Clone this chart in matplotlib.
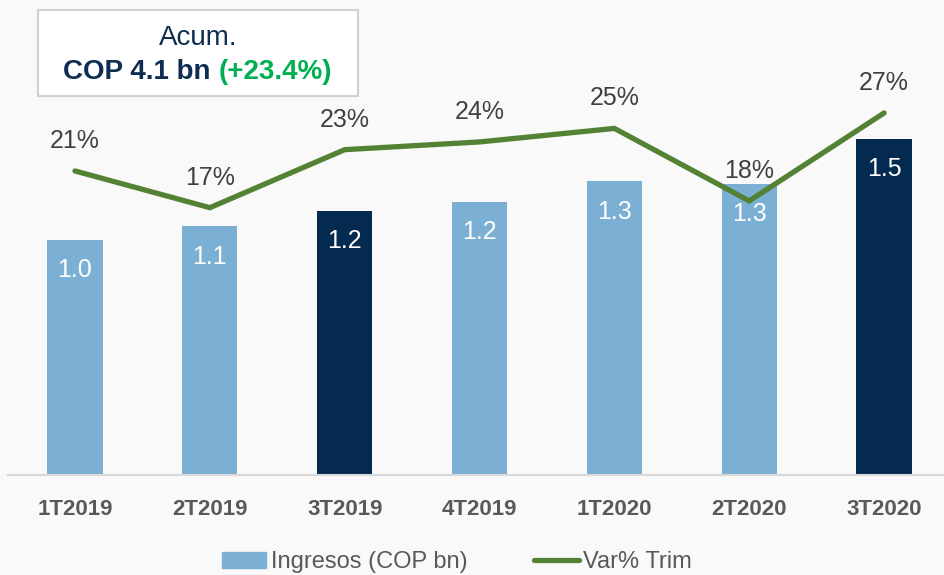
import matplotlib.pyplot as plt
from matplotlib.patches import Rectangle
from matplotlib.lines import Line2D

# data
quarters = ["1T2019", "2T2019", "3T2019", "4T2019", "1T2020", "2T2020", "3T2020"]
ingresos = [1.05, 1.11, 1.18, 1.22, 1.31, 1.30, 1.50]
ingresos_lbl = ["1.0", "1.1", "1.2", "1.2", "1.3", "1.3", "1.5"]
var_trim = [21.0, 17.2, 23.2, 24.0, 25.4, 17.9, 27.0]
dark_q = ["3T2019", "3T2020"]

light = "#7bafd4"
dark = "#052a4f"
green = "#548235"
bg = "#f9f9f9"

plt.rcParams['font.family'] = ['Liberation Sans', 'DejaVu Sans']

fig = plt.figure(figsize=(9.44, 5.75), dpi=100, facecolor=bg)
ax = fig.add_axes([0.008, 0.174, 1.0, 0.826])
ax.set_facecolor("none")

x = list(range(len(quarters)))
colors = [dark if q in dark_q else light for q in quarters]
ax.bar(x, ingresos, width=0.41, color=colors, zorder=2)
for xi, v, t in zip(x, ingresos, ingresos_lbl):
    ax.text(xi, v - 0.135, t, ha="center", va="center", color="white", fontsize=18, zorder=3)

ax.set_xlim(-0.5, 6.5)
ax.set_ylim(0, 2.12)
ax.set_yticks([])
ax.set_xticks(x)
ax.set_xticklabels(quarters, fontsize=16, fontweight="bold", color="#595959",
                   family=['Liberation Sans Narrow', 'Liberation Sans'])
ax.tick_params(axis="x", length=0, pad=17)
for s in ["top", "right", "left"]:
    ax.spines[s].set_visible(False)
ax.spines["bottom"].set_color("#d9d9d9")
ax.spines["bottom"].set_linewidth(1.5)

ax2 = ax.twinx()
ax2.plot(x, var_trim, color=green, lw=3.8, solid_capstyle="round", solid_joinstyle="miter", zorder=4)
ax2.set_ylim(-10.44, 38.68)
ax2.set_yticks([])
for s in ax2.spines.values():
    s.set_visible(False)
for xi, v in zip(x, var_trim):
    ax2.text(xi, v + 3.1, f"{v:.0f}%", ha="center", va="center", color="#404040", fontsize=18, zorder=5)

# text box
fig.patches.append(Rectangle((38 / 944, 1 - 96 / 575), 320 / 944, 86 / 575,
                             transform=fig.transFigure, facecolor="white",
                             edgecolor="#d0d0d0", lw=1.5))
fig.text(198 / 944, 1 - 38 / 575, "Acum.", ha="center", va="center", fontsize=20, color="#0d2d52")
t1 = fig.text(63 / 944, 1 - 72 / 575, "COP 4.1 bn ", ha="left", va="center", fontsize=20,
              fontweight="bold", color="#0d2d52")
fig.canvas.draw()
bb = t1.get_window_extent()
fig.text(bb.x1 / 944, 1 - 72 / 575, "(+23.4%)", ha="left", va="center", fontsize=20,
         fontweight="bold", color="#00b050")

handles = [Rectangle((0, 0), 1, 1, color=light),
           Line2D([0], [0], color=green, lw=3.8, solid_capstyle="round")]
fig.legend(handles, ["Ingresos (COP bn)", "Var% Trim"], loc="center",
           bbox_to_anchor=(0.484, 0.022), ncol=2, frameon=False, fontsize=17,
           labelcolor="#595959", handlelength=1.9, handletextpad=0.2, columnspacing=2.8)

fig.savefig("out.png", dpi=100, facecolor=bg)
